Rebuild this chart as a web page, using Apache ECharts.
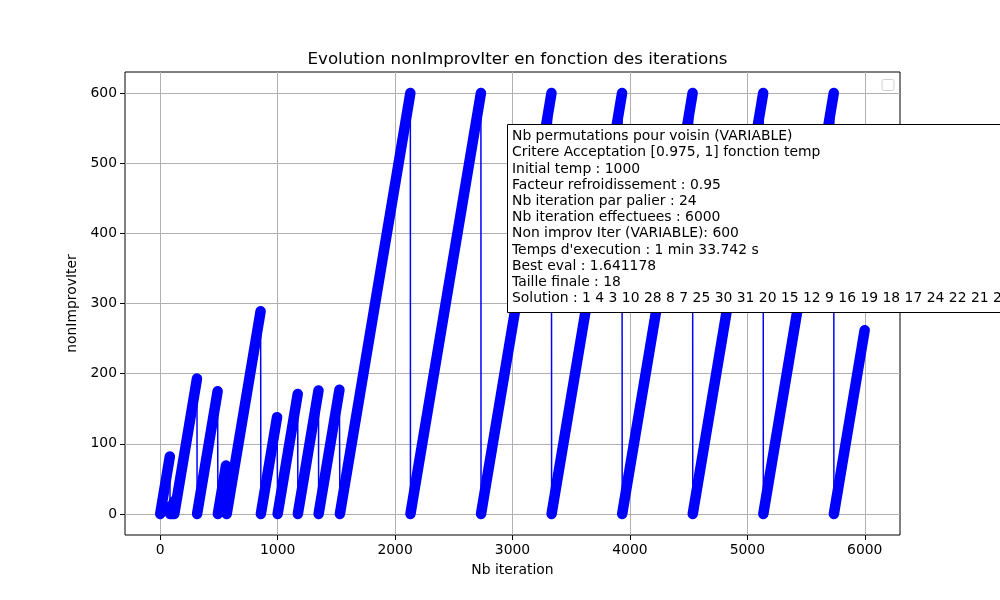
<!DOCTYPE html>
<html><head><meta charset="utf-8">
<script src="https://cdn.jsdelivr.net/npm/echarts@6/dist/echarts.min.js"></script>
<style>html,body{margin:0;padding:0;background:#fff}#c{width:1000px;height:600px}</style>
</head><body><div id="c"></div>
<script>
// iteration at which each counter run starts (value 0) and the value it reaches
const rampStarts = [0, 84, 98, 120, 314, 491, 566, 857, 1000, 1172, 1349, 1530, 2131, 2732, 3333, 3934, 4535, 5136, 5737];
const rampPeaks  = [82, 12, 18, 193, 175, 69, 289, 138, 171, 176, 177, 600, 600, 600, 600, 600, 600, 600, 262];
const xTicks = [0, 1000, 2000, 3000, 4000, 5000, 6000];
const yTicks = [0, 100, 200, 300, 400, 500, 600];
const infoLines = [
  "Nb permutations pour voisin (VARIABLE)",
  "Critere Acceptation [0.975, 1] fonction temp",
  "Initial temp : 1000",
  "Facteur refroidissement : 0.95",
  "Nb iteration par palier : 24",
  "Nb iteration effectuees : 6000",
  "Non improv Iter (VARIABLE): 600",
  "Temps d'execution : 1 min 33.742 s",
  "Best eval : 1.641178",
  "Taille finale : 18",
  "Solution : 1 4 3 10 28 8 7 25 30 31 20 15 12 9 16 19 18 17 24 22 21 2"
];

const rampData = [];
const pathData = [];
rampStarts.forEach((s, i) => {
  const e = s + rampPeaks[i];
  rampData.push([s, 0], [e, rampPeaks[i]], [e, '-']);
  pathData.push([s, 0], [e, rampPeaks[i]]);
});

const FONT = 'DejaVu Sans';
const plain = v => String(v);
const chart = echarts.init(document.getElementById('c'));
chart.setOption({
  animation: false,
  backgroundColor: '#fff',
  title: {
    text: 'Evolution nonImprovIter en fonction des iterations',
    left: 512.5, top: 46, textAlign: 'center',
    textStyle: {fontFamily: FONT, fontSize: 16.7, fontWeight: 'normal', color: '#000'}
  },
  grid: {left: 125, top: 72, width: 775, height: 463, show: true, borderColor: '#000', borderWidth: 1, backgroundColor: 'transparent'},
  xAxis: {
    type: 'value', min: -300, max: 6300,
    name: 'Nb iteration', nameLocation: 'middle', nameGap: 28,
    nameTextStyle: {fontFamily: FONT, fontSize: 13.9, color: '#000'},
    axisLine: {show: false, onZero: false},
    axisTick: {show: true, customValues: xTicks, length: 5, lineStyle: {color: '#000', width: 1}},
    axisLabel: {customValues: xTicks, formatter: plain, fontFamily: FONT, fontSize: 13.9, color: '#000', margin: 8},
    splitLine: {show: true, lineStyle: {color: '#b0b0b0', width: 1}}
  },
  yAxis: {
    type: 'value', min: -30, max: 630,
    name: 'nonImprovIter', nameLocation: 'middle', nameGap: 37, nameRotate: 90,
    nameTextStyle: {fontFamily: FONT, fontSize: 13.9, color: '#000'},
    axisLine: {show: false, onZero: false},
    axisTick: {show: true, customValues: yTicks, length: 5, lineStyle: {color: '#000', width: 1}},
    axisLabel: {customValues: yTicks, formatter: plain, fontFamily: FONT, fontSize: 13.9, color: '#000', margin: 8},
    splitLine: {show: true, lineStyle: {color: '#b0b0b0', width: 1}}
  },
  series: [
    {type: 'line', data: pathData, symbol: 'none', lineStyle: {color: '#0000ff', width: 1.5}, z: 3},
    {type: 'line', data: rampData, symbol: 'none', connectNulls: false,
     lineStyle: {color: '#0000ff', width: 10.5, cap: 'round', join: 'round'}, z: 4}
  ],
  graphic: [
    {type: 'rect', z: 100, shape: {x: 882, y: 79.5, width: 12, height: 11, r: 2},
     style: {fill: '#fff', stroke: '#d0d0d0', lineWidth: 1}},
    {type: 'rect', z: 100, shape: {x: 507.5, y: 124.5, width: 520, height: 188},
     style: {fill: '#fff', stroke: '#000', lineWidth: 1}},
    {type: 'text', z: 101, x: 512, y: 128.5,
     style: {text: infoLines.join('\n'), font: '13.9px "DejaVu Sans"', fill: '#000', lineHeight: 16.2, verticalAlign: 'top'}}
  ]
});
</script></body></html>
